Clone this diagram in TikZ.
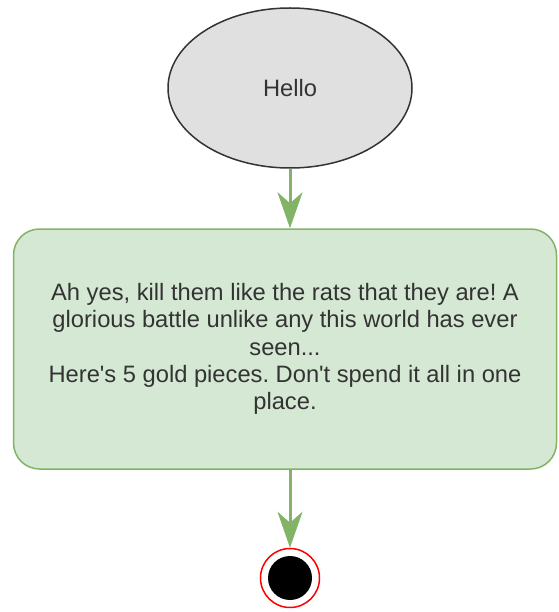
\documentclass[tikz,border=0pt]{standalone}
\usepackage{fontspec}
\setmainfont{Liberation Sans}
\usetikzlibrary{arrows.meta,shapes.geometric}
\frenchspacing

\definecolor{flowgreen}{HTML}{82B366}
\definecolor{boxgreen}{HTML}{D5E8D4}
\definecolor{startgray}{HTML}{E0E0E0}
\definecolor{textgray}{HTML}{333333}

\begin{document}
\begin{tikzpicture}[x=1pt,y=-1pt,
		flow/.style={-{Stealth[length=36pt,width=25pt,inset=11pt]},line width=3pt,color=flowgreen},
		say/.style={font=\fontsize{23.7}{27.4}\selectfont,text=textgray,align=center}]
		\useasboundingbox (0,0) rectangle (558,612);
		% start, reply and end of the dialogue
		\node[ellipse,draw=black!80,line width=1.5pt,fill=startgray,minimum width=244pt,minimum height=160pt,inner sep=0pt,say] (hello) at (290,88){Hello};
		\node[draw=flowgreen,line width=1.5pt,fill=boxgreen,rounded corners=26pt,minimum width=543pt,minimum height=240pt,inner sep=0pt,say] (reply) at (285,349){Ah yes, kill them like the rats that they are! A\\glorious battle unlike any this world has ever\\seen...\\Here\textquotesingle s 5 gold pieces. Don\textquotesingle t spend it all in one\\place.};
		\node[circle,draw=red,line width=1.5pt,fill=white,minimum size=59pt,inner sep=0pt] (done) at (290,578){};
		\fill[black] (done.center) circle[radius=22pt];
		\draw[flow] (hello.south) -- (hello.south |- reply.north);
		\draw[flow] (done.north |- reply.south) -- (done.north);
\end{tikzpicture}
\end{document}
